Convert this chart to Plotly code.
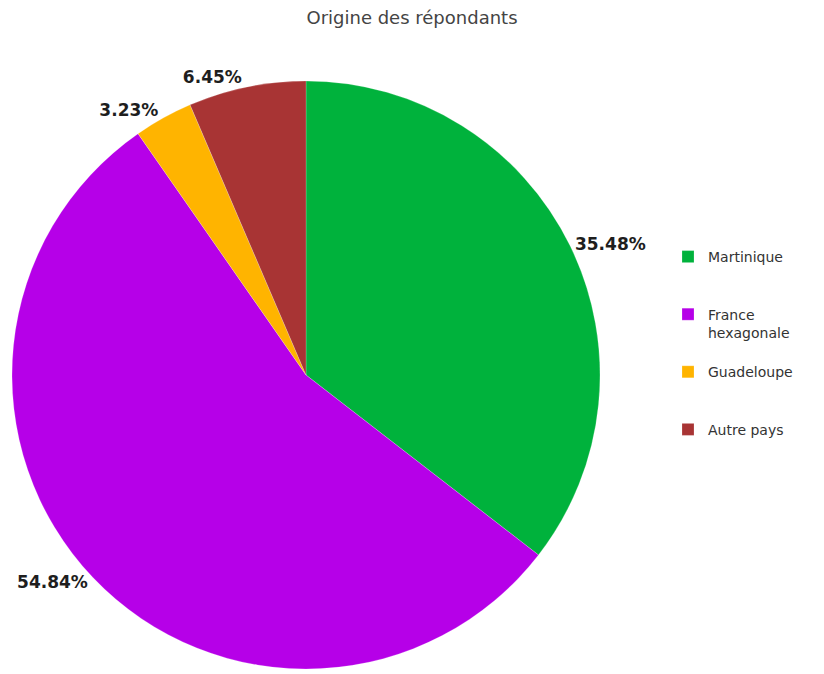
import plotly.graph_objects as go

categories = ["Martinique", "France hexagonale", "Guadeloupe", "Autre pays"]
legend_labels = ["Martinique<br> <br> ", "France<br>hexagonale<br> ", "Guadeloupe<br> <br> ", "Autre pays<br> <br> "]
counts = [11, 17, 1, 2]
colors = ["#00b23c", "#b600e8", "#ffb400", "#a83434"]

W, H = 824, 674
cx, cy, r = 306, 375, 294
FONT = "DejaVu Sans, sans-serif"

fig = go.Figure(go.Pie(
    labels=legend_labels,
    values=counts,
    customdata=categories,
    sort=False,
    direction="clockwise",
    rotation=0,
    marker=dict(colors=colors, line=dict(color="rgba(255,255,255,0.4)", width=0.5)),
    textinfo="percent",
    texttemplate="%{percent:.2%}",
    textposition="outside",
    outsidetextfont=dict(family=FONT, size=17, color="#1e1e1e", weight="bold"),
    hovertemplate="%{customdata}: %{value}<extra></extra>",
    domain=dict(x=[(cx - r) / W, (cx + r) / W], y=[1 - (cy + r) / H, 1 - (cy - r) / H]),
    automargin=False,
))

fig.update_layout(
    width=W, height=H,
    margin=dict(l=0, r=0, t=0, b=0),
    paper_bgcolor="white",
    title=dict(text="Origine des répondants", x=0.5, xanchor="center", y=1 - 18 / H, yanchor="middle",
               font=dict(family=FONT, size=18, color="#444")),
    legend=dict(x=668 / W, y=1 - 241 / H, xanchor="left", yanchor="top", valign="top",
                font=dict(family=FONT, size=14, color="#333")),
)

fig.write_html("out.html")
